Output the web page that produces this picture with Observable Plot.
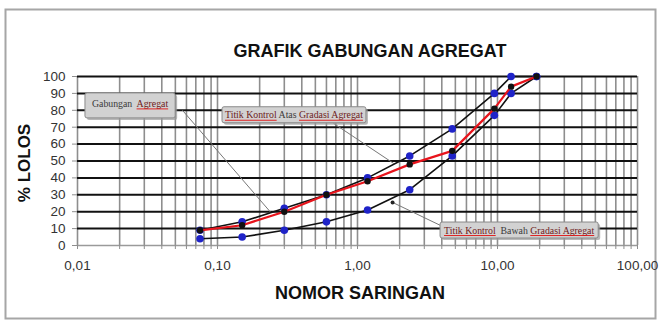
<!DOCTYPE html>
<html>
<head>
<meta charset="utf-8">
<script src="https://cdn.jsdelivr.net/npm/d3@7"></script>
<script src="https://cdn.jsdelivr.net/npm/@observablehq/plot@0.6"></script>
<style>
  html, body { margin: 0; padding: 0; background: #fff; }
  #chart svg { display: block; }
</style>
</head>
<body>
<div id="chart"></div>
<script>
// ---- data ----
const sieve = [0.075, 0.15, 0.3, 0.6, 1.18, 2.36, 4.75, 9.5, 12.5, 19];
const upperLimit = [9, 14, 22, 30, 40, 53, 69, 90, 100, 100];
const lowerLimit = [4, 5, 9, 14, 21, 33, 53, 77, 90, 100];
const combined = [9, 12, 20, 30, 38, 48, 56, 81, 94, 100];

const xTickValues = [0.01, 0.1, 1, 10, 100];
const xTickLabels = ["0,01", "0,10", "1,00", "10,00", "100,00"];
const yTickValues = [0, 10, 20, 30, 40, 50, 60, 70, 80, 90, 100];
const decades = [0.01, 0.1, 1, 10];
const multipliers = [1, 2, 3, 4, 5, 6, 7, 8, 9];

const titleText = "GRAFIK GABUNGAN AGREGAT";
const xLabelText = "NOMOR SARINGAN";
const yLabelText = "% LOLOS";

// callouts: text parts [text, kind] kind: 0 plain, 1 underlined maroon
const calloutParts = [
  [["Gabungan  ", 0], ["Agregat", 1]],
  [["Titik Kontrol", 1], [" Atas ", 0], ["Gradasi Agregat", 1]],
  [["Titik Kontrol", 1], ["  Bawah ", 0], ["Gradasi Agregat", 1]]
];
const calloutBoxX = [0.0114, 0.1086, 3.92];
const calloutBoxY = [90.0, 81.8, 13.6];
const calloutFromX = [0.0562, 0.674, 3.92];
const calloutFromY = [80.0, 72.3, 11.85];
const calloutToX = [0.24, 1.81, 1.78];
const calloutToY = [19.6, 48.6, 25.5];

// ---- derived tables ----
const minorX = decades.flatMap(d => multipliers.map(m => +(d * m).toPrecision(3))).concat([100]);
const upperData = sieve.map((s, i) => ({s, v: upperLimit[i]}));
const lowerData = sieve.map((s, i) => ({s, v: lowerLimit[i]}));
const combData = sieve.map((s, i) => ({s, v: combined[i]}));
const leaders = calloutFromX.map((x, i) => ({x1: x, y1: calloutFromY[i], x2: calloutToX[i], y2: calloutToY[i]}));

const blue = "#1f23c8";
const font = "'Liberation Sans', Arial, sans-serif";

const plot = Plot.plot({
  width: 662,
  height: 325,
  marginLeft: 77,
  marginRight: 25,
  marginTop: 76,
  marginBottom: 80,
  style: {fontFamily: font, background: "#fff", overflow: "visible"},
  x: {type: "log", domain: [0.01, 100]},
  y: {domain: [0, 100]},
  marks: [
    Plot.ruleX(minorX, {stroke: "#8e8e8e", strokeWidth: 1.6}),
    Plot.ruleY(yTickValues.filter(v => v > 0), {stroke: "#111", strokeWidth: 2}),
    Plot.ruleY([0], {stroke: "#9a9a9a", strokeWidth: 1.5}),
    Plot.ruleX(minorX, {y1: 0, y2: 0, insetBottom: -4, stroke: "#8e8e8e", strokeWidth: 1}),
    Plot.axisX(xTickValues, {tickSize: 0, tickPadding: 15, tickFormat: (d) => xTickLabels[xTickValues.indexOf(d)], fontSize: 13.5, fill: "#333", label: null}),
    Plot.axisY(yTickValues, {tickSize: 5, tickPadding: 7, fontSize: 13.5, fill: "#333", stroke: "#8e8e8e", label: null}),
    Plot.link(leaders, {x1: "x1", y1: "y1", x2: "x2", y2: "y2", stroke: "#777", strokeWidth: 1}),
    Plot.dot(leaders, {x: "x2", y: "y2", r: 2, fill: "#222", filter: (d, i) => i === 2}),
    Plot.line(upperData, {x: "s", y: "v", stroke: "#111", strokeWidth: 1.6}),
    Plot.line(lowerData, {x: "s", y: "v", stroke: "#111", strokeWidth: 1.6}),
    Plot.dot(upperData, {x: "s", y: "v", r: 3.8, fill: blue}),
    Plot.dot(lowerData, {x: "s", y: "v", r: 3.8, fill: blue}),
    Plot.line(combData, {x: "s", y: "v", stroke: "#e8141c", strokeWidth: 2.2}),
    Plot.dot(combData, {x: "s", y: "v", r: 3.2, fill: "#111"})
  ]
});

document.getElementById("chart").appendChild(plot);
const svg = d3.select(plot);
const sx = plot.scale("x"), sy = plot.scale("y");

// outer frame
svg.insert("rect", ":first-child")
  .attr("x", 5.5).attr("y", 9.5).attr("width", 650).attr("height", 309)
  .attr("fill", "none").attr("stroke", "#a6a6a6").attr("stroke-width", 2);

// title & axis labels
svg.append("text").text(titleText)
  .attr("x", 370).attr("y", 57).attr("text-anchor", "middle")
  .attr("font-family", font).attr("font-weight", "bold").attr("font-size", 18)
  .attr("fill", "#111");
svg.append("text").text(xLabelText)
  .attr("x", 360).attr("y", 299).attr("text-anchor", "middle")
  .attr("font-family", font).attr("font-weight", "bold").attr("font-size", 18)
  .attr("fill", "#111");
svg.append("text").text(yLabelText)
  .attr("transform", "translate(30,163) rotate(-90)").attr("text-anchor", "middle")
  .attr("font-family", font).attr("font-weight", "bold").attr("font-size", 17)
  .attr("fill", "#111");

// callout boxes
const boxH = [25, 16, 16];
const boxPad = [7, 3, 4];
const textOff = [14, 11.5, 11.5];
calloutParts.forEach((parts, i) => {
  const bx = sx.apply(calloutBoxX[i]);
  const by = sy.apply(calloutBoxY[i]);
  const g = svg.append("g").attr("text-anchor", "start");
  const shadow = g.append("rect").attr("fill", "#9a9a9a").attr("opacity", 0.7).attr("rx", 2);
  const box = g.append("rect").attr("fill", "#d2d2d2").attr("stroke", "#8a8a8a").attr("stroke-width", 1).attr("rx", 2);
  const t = g.append("text")
    .attr("x", bx + boxPad[i]).attr("y", by + textOff[i])
    .attr("text-anchor", "start")
    .attr("font-family", "'Liberation Serif', 'Times New Roman', serif")
    .attr("font-size", 9.8).style("white-space", "pre");
  parts.forEach(([txt, kind]) =>
    t.append("tspan").text(txt).attr("fill", kind ? "#6e2020" : "#3a3a3a"));
  const node = t.node();
  const total = node.getComputedTextLength();
  const w = total + 2 * boxPad[i];
  shadow.attr("x", bx + 2).attr("y", by + 2).attr("width", w).attr("height", boxH[i]);
  box.attr("x", bx).attr("y", by).attr("width", w).attr("height", boxH[i]);
  let idx = 0;
  parts.forEach(([txt, kind]) => {
    if (kind) {
      const x0 = node.getStartPositionOfChar(idx).x;
      const x1 = node.getEndPositionOfChar(idx + txt.length - 1).x;
      g.append("line").attr("x1", x0).attr("x2", x1)
        .attr("y1", by + textOff[i] + 2).attr("y2", by + textOff[i] + 2)
        .attr("stroke", "#e01010").attr("stroke-width", 0.9);
    }
    idx += txt.length;
  });
});
</script>
</body>
</html>
